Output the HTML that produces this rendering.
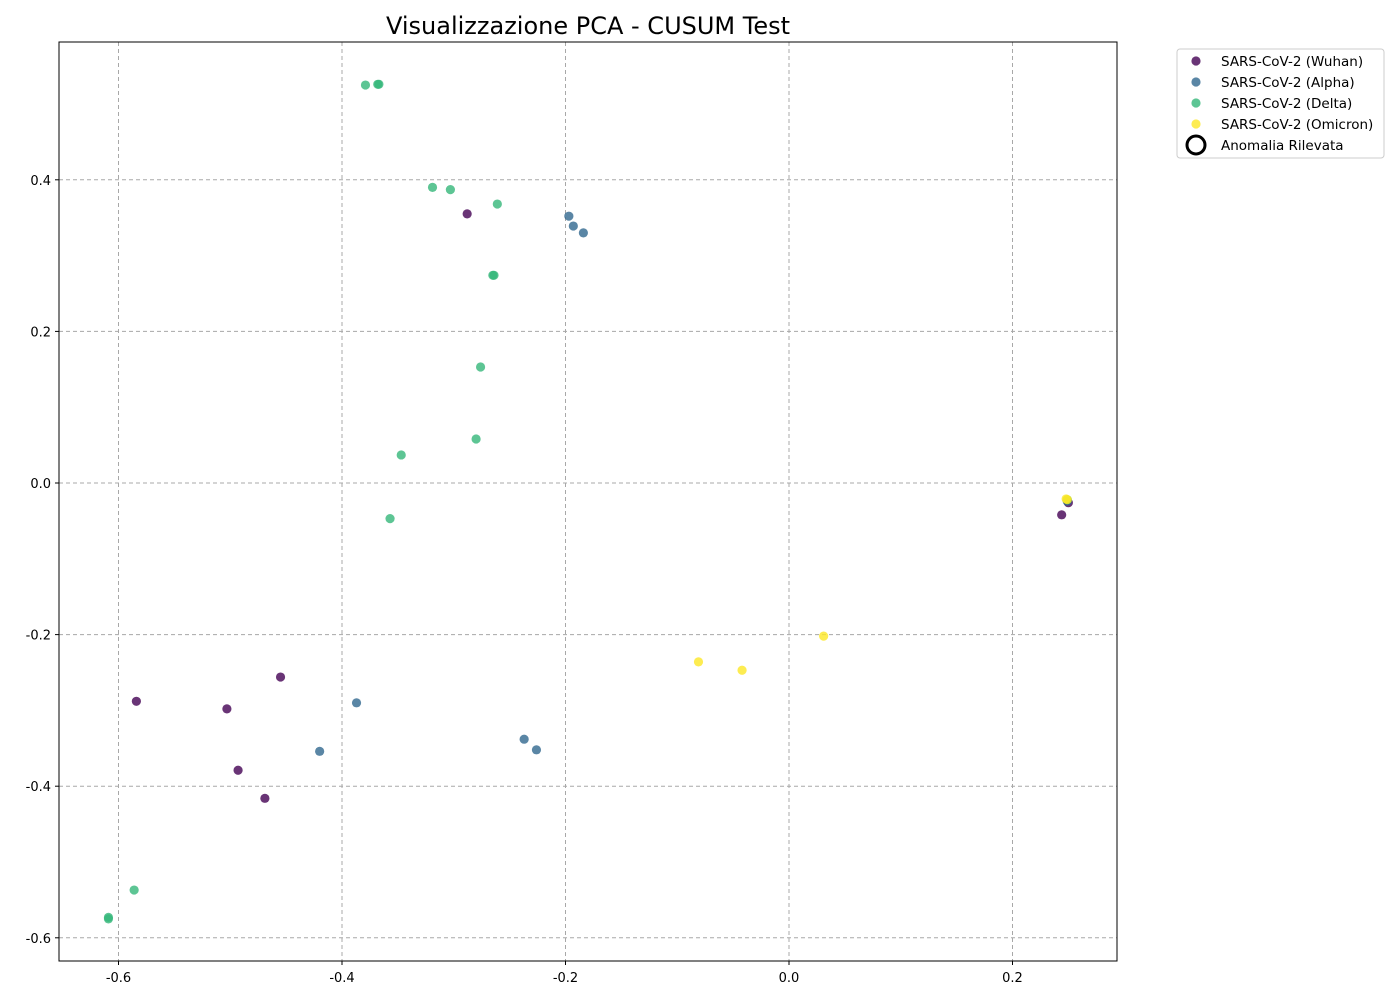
<!DOCTYPE html>
<html><head><meta charset="utf-8"><style>
body{margin:0;background:#fff;font-family:"Liberation Sans","DejaVu Sans",sans-serif;}
svg text{font-family:"DejaVu Sans","Liberation Sans",sans-serif;}
</style></head><body>
<svg id="chart" width="1400" height="1000">
<rect x="0" y="0" width="1400" height="1000" fill="#fff"/>
<text x="588" y="34" font-size="24" text-anchor="middle">Visualizzazione PCA - CUSUM Test</text>
<g id="grid"></g><g id="ticks"></g><g id="points"></g>
<rect x="59" y="42" width="1058" height="919" fill="none" stroke="#000" stroke-width="1"/>
<g id="legend">
<rect x="1177" y="49" width="207" height="109" rx="3" fill="#fff" stroke="#ccc"/>
</g>
</svg>
<script>
const xTicks=[-0.6,-0.4,-0.2,0.0,0.2];
const yTicks=[0.4,0.2,0.0,-0.2,-0.4,-0.6];
const seriesNames=["SARS-CoV-2 (Wuhan)","SARS-CoV-2 (Alpha)","SARS-CoV-2 (Delta)","SARS-CoV-2 (Omicron)"];
const seriesColors=["#440154","#31688e","#35b779","#fde725"];
const wuhanX=[-0.288,-0.584,-0.503,-0.455,-0.493,-0.469,0.244,0.250];
const wuhanY=[0.355,-0.288,-0.298,-0.256,-0.379,-0.416,-0.042,-0.026];
const alphaX=[-0.197,-0.193,-0.184,-0.387,-0.420,-0.237,-0.226,0.249];
const alphaY=[0.352,0.339,0.330,-0.290,-0.354,-0.338,-0.352,-0.024];
const deltaX=[-0.379,-0.368,-0.367,-0.319,-0.303,-0.261,-0.265,-0.264,-0.276,-0.280,-0.347,-0.357,-0.586,-0.609,-0.609,0.249];
const deltaY=[0.525,0.526,0.526,0.390,0.387,0.368,0.274,0.274,0.153,0.058,0.037,-0.047,-0.537,-0.573,-0.575,-0.022];
const omicronX=[-0.081,-0.042,0.031,0.248,0.249];
const omicronY=[-0.236,-0.247,-0.202,-0.021,-0.022];
const NS="http://www.w3.org/2000/svg";
function sx(v){return 789+v*1117.5;}
function sy(v){return 483-v*758;}
function mk(t,a,p){const e=document.createElementNS(NS,t);for(const k in a)e.setAttribute(k,a[k]);p.appendChild(e);return e;}
const grid=document.getElementById('grid'),ticks=document.getElementById('ticks'),pts=document.getElementById('points'),leg=document.getElementById('legend');
xTicks.forEach(v=>{const x=sx(v);
 const l=mk('line',{x1:x,x2:x,y1:42,y2:961,stroke:'#a8a8a8','stroke-dasharray':'4,3'},grid);
 
 mk('line',{x1:x,x2:x,y1:961,y2:965,stroke:'#000'},ticks);
 const t=mk('text',{x:x,y:982,'font-size':13,'text-anchor':'middle'},ticks);t.textContent=v.toFixed(1);
 });
yTicks.forEach(v=>{const y=sy(v);
 const l=mk('line',{x1:59,x2:1117,y1:y,y2:y,stroke:'#a8a8a8','stroke-dasharray':'4,3'},grid);
 
 mk('line',{x1:55,x2:59,y1:y,y2:y,stroke:'#000'},ticks);
 const t=mk('text',{x:51,y:y+5,'font-size':13,'text-anchor':'end'},ticks);t.textContent=v.toFixed(1);
 });
const sets=[[wuhanX,wuhanY],[alphaX,alphaY],[deltaX,deltaY],[omicronX,omicronY]];
sets.forEach((s,i)=>{s[0].forEach((xv,j)=>{
 const c=mk('circle',{cx:sx(xv),cy:sy(s[1][j]),r:4.6,fill:seriesColors[i],'fill-opacity':0.8},pts);
 
 });});
seriesNames.forEach((n,i)=>{const y=61+i*21;
 const c=mk('circle',{cx:1196,cy:y,r:4.6,fill:seriesColors[i],'fill-opacity':0.8},leg);
 
 const t=mk('text',{x:1221,y:y+5,'font-size':13.5},leg);t.textContent=n;
 });
const ac=mk('circle',{cx:1196,cy:145,r:9,fill:'none',stroke:'#000','stroke-width':3},leg);

const at=mk('text',{x:1221,y:150,'font-size':13.5},leg);at.textContent='Anomalia Rilevata';

</script>
</body></html>
